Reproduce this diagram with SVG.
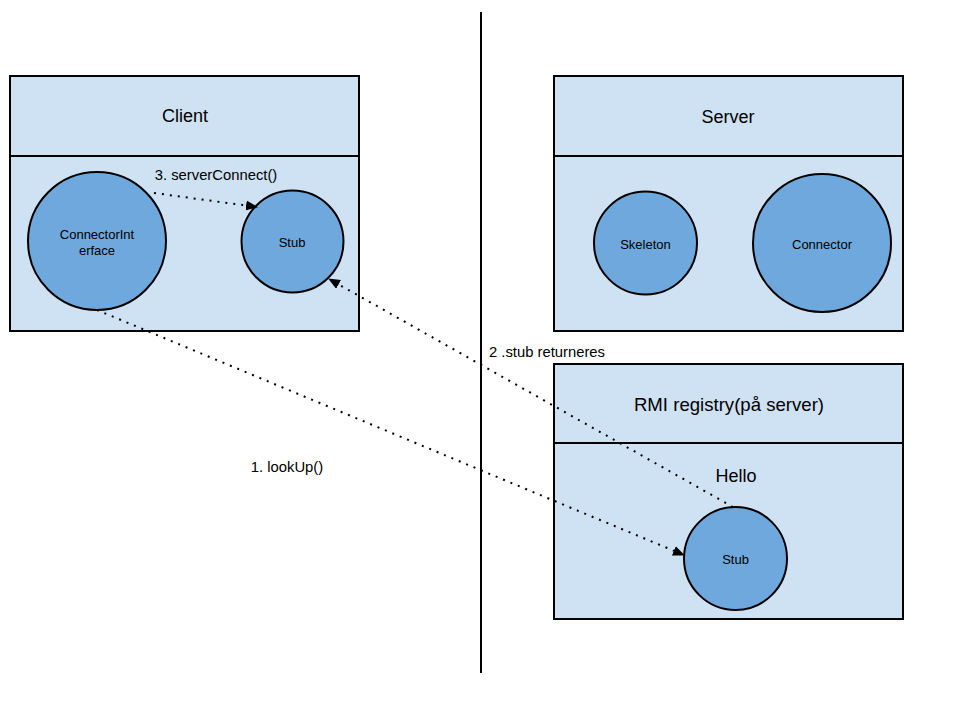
<svg xmlns="http://www.w3.org/2000/svg" width="960" height="720" viewBox="0 0 960 720">
<defs>
<style>
.box{fill:#cfe2f3;stroke:#000;stroke-width:2}
.circ{fill:#6fa8dc;stroke:#000;stroke-width:2}
.t{font-family:"Liberation Sans",Arial,sans-serif;fill:#000;text-anchor:middle}
.big{font-size:18px}
.sm{font-size:13px}
.lbl{font-size:14.8px}
.conn{fill:none;stroke:#000;stroke-width:2;stroke-dasharray:2 6}
</style>
<marker id="arr" markerWidth="12" markerHeight="10" refX="11" refY="5" orient="auto" markerUnits="userSpaceOnUse">
<path d="M0,0 L12,5 L0,10 Z" fill="#000"/>
</marker>
</defs>
<rect width="960" height="720" fill="#fff"/>
<line x1="481" y1="12" x2="481" y2="673" stroke="#000" stroke-width="2"/>
<g id="client">
<rect class="box" x="10" y="76" width="349" height="255"/>
<line x1="10" y1="156" x2="359" y2="156" stroke="#000" stroke-width="2"/>
<text class="t big" x="185" y="122">Client</text>
</g>
<g id="connectorInterface">
<circle class="circ" cx="97" cy="241" r="69"/>
<text class="t sm" x="97" y="239">ConnectorInt</text>
<text class="t sm" x="97" y="255">erface</text>
</g>
<g id="clientStub">
<circle class="circ" cx="292.5" cy="241.5" r="51"/>
<text class="t sm" x="292" y="246.5">Stub</text>
</g>
<g id="server">
<rect class="box" x="554" y="76" width="349" height="255"/>
<line x1="554" y1="156" x2="903" y2="156" stroke="#000" stroke-width="2"/>
<text class="t big" x="728" y="123">Server</text>
</g>
<g id="skeleton">
<circle class="circ" cx="645.5" cy="243" r="51.5"/>
<text class="t sm" x="645.5" y="248.5">Skeleton</text>
</g>
<g id="connector">
<circle class="circ" cx="822" cy="243" r="69"/>
<text class="t sm" x="822" y="248.5">Connector</text>
</g>
<g id="registry">
<rect class="box" x="554" y="364" width="349" height="255"/>
<line x1="554" y1="443" x2="903" y2="443" stroke="#000" stroke-width="2"/>
<text class="t" style="font-size:18.6px" x="729" y="411">RMI registry(på server)</text>
<text class="t big" x="736" y="482">Hello</text>
</g>
<g id="registryStub">
<circle class="circ" cx="735.5" cy="558.5" r="51.5"/>
<text class="t sm" x="735.5" y="563.5">Stub</text>
</g>
<g id="connectors">
<line class="conn" x1="97" y1="310" x2="684" y2="555" marker-end="url(#arr)"/>
<line class="conn" x1="733" y1="507" x2="329" y2="279" marker-end="url(#arr)"/>
<line class="conn" x1="154" y1="193" x2="257" y2="207" marker-end="url(#arr)"/>
<text class="t lbl" x="287" y="472">1. lookUp()</text>
<text class="t lbl" x="547" y="356.5">2 .stub returneres</text>
<text class="t lbl" x="216" y="179.5">3. serverConnect()</text>
</g>
</svg>
